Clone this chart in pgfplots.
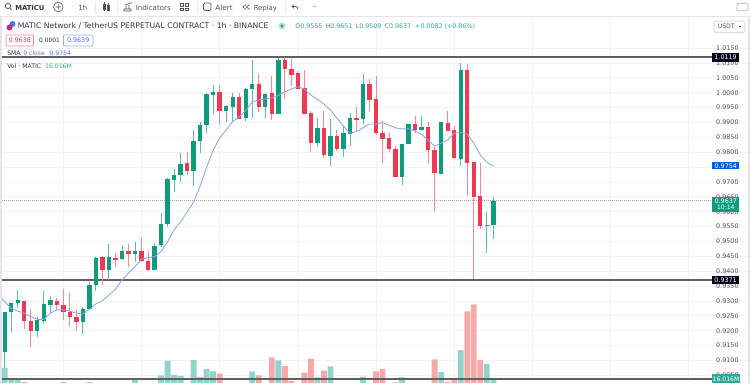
\documentclass[border=0pt]{standalone}
\usepackage{pgfplots}
\usepackage{pgfplotstable}
\usepackage{fontspec}
\pgfplotsset{compat=1.18}
\setmainfont{DejaVu Sans}
\definecolor{up}{HTML}{0F9B7E}
\definecolor{dn}{HTML}{EE3A50}
\definecolor{upw}{HTML}{62B9A6}
\definecolor{dnw}{HTML}{F08C9A}
\definecolor{upv}{HTML}{92D3CB}
\definecolor{dnv}{HTML}{F6A9A9}
\definecolor{gridc}{HTML}{F1F3F8}
\definecolor{lev}{HTML}{606064}
\definecolor{sma}{HTML}{8EA6E6}
\definecolor{txt}{HTML}{33363F}
\definecolor{gr}{HTML}{787B86}
\definecolor{teal}{HTML}{2FA899}
\definecolor{bluet}{HTML}{4F75E0}
\definecolor{tool}{HTML}{50535E}
\definecolor{edge}{HTML}{E3E5EC}
\pgfplotstableread{
i o c h l
0 .9129 .9264 .9264 .9075
1 .9263 .9294 .9294 .9197
2 .9292 .9303 .9337 .9275
5 .9199 .9236 .9247 .9178
6 .9234 .9289 .9334 .9227
7 .9287 .9303 .9317 .9261
12 .9228 .9273 .9279 .9188
13 .9273 .9355 .9365 .9270
14 .9355 .9445 .9449 .9334
16 .9404 .9447 .9490 .9370
18 .9440 .9469 .9486 .9438
20 .9458 .9469 .9499 .9430
23 .9405 .9486 .9495 .9404
24 .9488 .9558 .9597 .9482
25 .9558 .9709 .9712 .9548
26 .9706 .9723 .9744 .9665
27 .9723 .9760 .9796 .9699
29 .9738 .9839 .9875 .9686
30 .9837 .9891 .9902 .9796
31 .9890 .9997 1.0000 .9864
32 .9993 1.0002 1.0026 .9927
34 .9938 .9955 .9959 .9902
35 .9953 .9987 1.0000 .9906
37 .9914 1.0012 1.0015 .9905
38 1.0011 1.0030 1.0110 .9915
40 .9952 .9997 1.0000 .9915
42 .9929 1.0110 1.0120 .9929
48 .9830 .9880 .9916 .9817
50 .9787 .9855 .9911 .9754
52 .9812 .9864 .9888 .9783
53 .9861 .9915 .9933 .9821
55 .9910 1.0029 1.0062 .9895
61 .9716 .9828 .9828 .9690
62 .9828 .9896 .9896 .9828
64 .9875 .9884 .9922 .9875
67 .9728 .9900 .9902 .9727
70 .9778 1.0077 1.0101 .9754
74 .9553 .9555 .9600 .9462
75 .9555 .9637 .9651 .9509
}\greenT
\pgfplotstableread{
i o c h l
3 .9301 .9232 .9301 .9205
4 .9232 .9199 .9272 .9144
8 .9301 .9285 .9309 .9270
9 .9285 .9263 .9339 .9236
10 .9264 .9246 .9328 .9216
11 .9245 .9229 .9270 .9200
15 .9447 .9403 .9451 .9354
17 .9445 .9439 .9460 .9413
19 .9469 .9458 .9490 .9413
21 .9467 .9435 .9511 .9430
22 .9435 .9404 .9469 .9402
28 .9763 .9737 .9801 .9723
33 1.0002 .9938 1.0027 .9891
36 .9986 .9912 .9998 .9911
39 1.0030 .9953 1.0062 .9934
41 .9998 .9929 1.0057 .9908
43 1.0110 1.0080 1.0120 .9978
44 1.0081 1.0060 1.0112 1.0022
45 1.0065 1.0012 1.0074 1.0011
46 1.0015 .9927 1.0076 .9927
47 .9931 .9830 .9938 .9805
49 .9880 .9789 .9938 .9779
51 .9855 .9811 .9875 .9805
54 .9915 .9909 .9953 .9872
56 1.0029 .9977 1.0045 .9940
57 .9978 .9866 1.0056 .9858
58 .9866 .9845 .9906 .9763
59 .9847 .9810 .9864 .9801
60 .9810 .9718 .9821 .9716
63 .9896 .9875 .9922 .9866
65 .9884 .9807 .9902 .9759
66 .9807 .9730 .9824 .9600
68 .9899 .9871 .9940 .9871
69 .9875 .9780 .9888 .9777
71 1.0076 .9765 1.0097 .9653
72 .9767 .9650 .9767 .9373
73 .9653 .9553 .9763 .9541
}\redT
\pgfplotstableread{
i v
-1 .9320
0 .9298
1 .9275
2 .9266
3 .9259
4 .9247
5 .9238
6 .9238
7 .9259
8 .9270
9 .9270
10 .9266
11 .9259
12 .9256
13 .9272
14 .9290
15 .9301
16 .9320
17 .9339
18 .9370
19 .9393
20 .9415
21 .9440
22 .9445
23 .9449
24 .9466
25 .9499
26 .9539
27 .9566
28 .9599
29 .9633
30 .9686
31 .9750
32 .9807
33 .9848
34 .9875
35 .9903
36 .9919
37 .9940
38 .9969
39 .9976
40 .9979
41 .9983
42 .9990
43 1.0003
44 1.0012
45 1.0020
46 1.0012
47 .9992
48 .9978
49 .9962
50 .9942
51 .9914
52 .9888
53 .9864
54 .9869
55 .9882
56 .9895
57 .9895
58 .9899
59 .9891
60 .9882
61 .9878
62 .9879
63 .9871
64 .9860
65 .9839
66 .9821
67 .9830
68 .9841
69 .9864
70 .9866
71 .9861
72 .9830
73 .9791
74 .9766
75 .9754
}\smaT
\pgfplotstableread{
i v
0 29.6
1 17.2
2 17.2
13 12.3
20 16.4
24 20.5
25 38.6
26 21.0
27 20.0
29 39.4
30 18.5
31 28.3
32 25.5
38 25.5
42 39.0
48 18.1
50 31.7
55 18.9
61 18.1
67 24.6
70 51.7
74 34.5
75 16.016
}\volUp
\pgfplotstableread{
i v
3 12.3
9 12.5
33 22.5
39 20.6
41 42.7
43 32.0
44 13.6
46 23.8
47 41.0
49 26.2
57 25.5
58 28.3
60 12.0
66 40.3
68 12.7
69 16.4
71 99.4
72 108.0
73 39.4
}\volDn
\newcommand{\ft}[1]{\fontsize{#1}{#1}\selectfont}
\begin{document}
\begin{tikzpicture}
\useasboundingbox (0,0) rectangle (562.5pt,287.25pt);
% grid and price scale
\begin{axis}[at={(0,0)},anchor=south west,width=562.5pt,height=287.25pt,scale only axis,
  xmin=-0.7214,xmax=114.40,ymin=0.90242,ymax=1.03116,clip=true,
  axis line style={draw=none},major tick length=0pt,
  xtick={9,21,33,45,57,69,81,93,105},xticklabels={},
  ytick={0.905,0.91,0.915,0.92,0.925,0.93,0.935,0.94,0.945,0.95,0.955,0.96,0.965,0.97,0.98,0.985,0.99,0.995,1,1.005,1.01,1.015},
  extra y ticks={0.975},extra y tick labels={},
  grid=major,grid style={gridc,line width=0.5pt},
  yticklabel pos=right,
  yticklabel style={anchor=east,xshift=-5pt,text=tool,font=\ft{4.8},/pgf/number format/.cd,fixed,fixed zerofill,precision=4,assume math mode=true}]
\addplot[draw=none,forget plot] coordinates {(0,0.95)};
\end{axis}
% volume pane
\begin{axis}[at={(0,0)},anchor=south west,width=562.5pt,height=287.25pt,scale only axis,
  hide axis,xmin=-0.7214,xmax=114.40,ymin=11.09,ymax=482.9,clip=true]
\addplot[ybar,bar width=4.4pt,bar shift=0pt,fill=upv,draw=none] table[x=i,y=v]{\volUp};
\addplot[ybar,bar width=4.4pt,bar shift=0pt,fill=dnv,draw=none] table[x=i,y=v]{\volDn};
\addplot[lev,line width=1.2pt] coordinates {(-0.4,16.016)(108.57,16.016)};
\end{axis}
% candles
\begin{axis}[at={(0,0)},anchor=south west,width=562.5pt,height=287.25pt,scale only axis,
  hide axis,xmin=-0.7214,xmax=114.40,ymin=0.90242,ymax=1.03116,clip=true]
\addplot[lev,line width=1.2pt] coordinates {(-0.4,1.0119)(108.57,1.0119)};
\addplot[lev,line width=1.2pt] coordinates {(-0.4,0.9371)(108.57,0.9371)};
\addplot[gray!70,line width=0.5pt,densely dotted] coordinates {(-0.4,0.9637)(108.57,0.9637)};
\addplot[draw=none,mark=none,error bars/.cd,y dir=minus,y explicit,error mark=none,error bar style={upw,line width=0.7pt}] table[x=i,y=h,y error minus expr=\thisrow{h}-\thisrow{l}]{\greenT};
\addplot[draw=none,mark=none,error bars/.cd,y dir=minus,y explicit,error mark=none,error bar style={dnw,line width=0.7pt}] table[x=i,y=h,y error minus expr=\thisrow{h}-\thisrow{l}]{\redT};
\addplot[draw=none,mark=none,error bars/.cd,y dir=minus,y explicit,error mark=none,error bar style={up,line width=3.3pt}] table[x=i,y=c,y error minus expr=\thisrow{c}-\thisrow{o}]{\greenT};
\addplot[draw=none,mark=none,error bars/.cd,y dir=minus,y explicit,error mark=none,error bar style={dn,line width=3.3pt}] table[x=i,y=o,y error minus expr=\thisrow{o}-\thisrow{c}]{\redT};
\addplot[sma,line width=0.65pt,line join=round] table[x=i,y=v]{\smaT};
\end{axis}
\begin{scope}[shift={(0,287.25pt)},x=0.75pt,y=-0.75pt]
\fill[white] (0,0) rectangle (750,17);
\fill[edge] (0,16) rectangle (750,17.2);
\fill[edge] (0,17) rectangle (1.8,383);
\fill[edge] (747.5,17) rectangle (750,383);
% toolbar
\draw[tool,line width=0.6pt] (8,6) circle[radius=2.6] (9.9,8) -- (11.5,9.8);
\node[anchor=base west,inner sep=0,text=txt] at (15,10) {\ft{5.1}\bfseries MATICU};
\draw[tool,line width=0.45pt] (58.3,7) circle[radius=4.8] (55.8,7)--(60.8,7) (58.3,4.5)--(58.3,9.5);
\node[anchor=base west,inner sep=0,text=tool] at (78,10) {\ft{5.3}1h};
\draw[tool,line width=0.45pt] (103,4) rectangle (104.8,9) (107,5) rectangle (108.8,10) (103.9,2.5)--(103.9,11) (107.9,3)--(107.9,11.5);
\draw[tool,line width=0.45pt] (124,11) rectangle (131,9) (126,9) -- (126,6) (129,9) -- (129,5) (125,5) -- (132,2.5);
\node[anchor=base west,inner sep=0,text=tool] at (135.5,10) {\ft{5.3}Indicators};
\draw[tool,line width=0.45pt] (180.5,3.5) rectangle (183.3,6.3) (185.2,3.5) rectangle (188,6.3) (180.5,7.9) rectangle (183.3,10.7) (185.2,7.9) rectangle (188,10.7);
\draw[tool,line width=0.45pt,rounded corners=1pt] (203.5,3) rectangle (211,10.5);
\node[anchor=base west,inner sep=0,text=tool] at (215,10) {\ft{5.5}Alert};
\draw[tool,line width=0.45pt] (246,4.5)--(243,7)--(246,9.5) (249.5,4.5)--(246.5,7)--(249.5,9.5);
\node[anchor=base west,inner sep=0,text=tool] at (253.5,10) {\ft{5.1}Replay};
\draw[tool,line width=0.5pt] (296,6.5)--(292,6.5)--(294,4.5) (292,6.5)--(294,8.3) (296,6.5) .. controls (298,6.5) and (298,8.5) .. (297.5,9);
\draw[gray!35,line width=0.5pt] (316,6.5)--(312,6.5) (316,6.5)--(314.5,5) (316,6.5)--(314.5,8);
\draw[edge,line width=0.5pt] (95,2)--(95,13) (117,2)--(117,13) (197,2)--(197,13) (285,2)--(285,13);
\draw[gray!60,line width=0.5pt,rounded corners=1pt] (737,3.2) rectangle (748,10.7);
% header
\fill[bluet] (12.5,24) circle[radius=3];
\fill[magenta!60!violet] (9.5,27.5) circle[radius=3];
\node[anchor=base west,inner sep=0,text=txt] at (17.5,29) {\ft{5.78}MATIC Network / TetherUS PERPETUAL CONTRACT · 1h · BINANCE};
\fill[teal!35] (282,26) circle[radius=3.4];
\fill[teal!90!black] (282,26) circle[radius=1.6];
\node[anchor=base west,inner sep=0] at (295,29) {\ft{4.75}\textcolor{gr}{O}\textcolor{teal}{0.9555}\hspace{2.4pt}\textcolor{gr}{H}\textcolor{teal}{0.9651}\hspace{2.4pt}\textcolor{gr}{L}\textcolor{teal}{0.9509}\hspace{2.4pt}\textcolor{gr}{C}\textcolor{teal}{0.9637}\hspace{3pt}\textcolor{teal}{+0.0082 (+0.86\%)}};
\draw[dn!60,line width=0.5pt,fill=white,rounded corners=0.7pt] (6,35) rectangle (33.5,46);
\node[anchor=center,inner sep=0,text=dn] at (19.7,40.5) {\ft{4.8}0.9638};
\node[anchor=center,inner sep=0,text=txt] at (49.5,40) {\ft{4.4}0.0001};
\draw[bluet!60,line width=0.5pt,fill=white,rounded corners=0.7pt] (63.5,35) rectangle (93,46);
\node[anchor=center,inner sep=0,text=bluet] at (78.2,40.5) {\ft{4.8}0.9639};
\node[anchor=base west,inner sep=0] at (7,56) {\ft{4.6}\textcolor{txt}{SMA}\hspace{2pt}\textcolor{gr}{9 close}\hspace{3.5pt}\textcolor{bluet}{0.9754}};
\node[anchor=base west,inner sep=0] at (7,68) {\ft{4.6}\textcolor{txt}{Vol · MATIC}\hspace{3pt}\textcolor{teal}{16.016M}};
% price tags
\fill[black!90!blue] (712.3,53.3) rectangle (739,61.7);
\node[text=white,inner sep=0] at (725.6,57.5) {\ft{4.8}1.0119};
\fill[black!90!blue] (712.3,276) rectangle (739,284);
\node[text=white,inner sep=0] at (725.6,280) {\ft{4.8}0.9371};
\fill[blue!55!cyan!85!black] (712.3,162.3) rectangle (739.3,169.3);
\node[text=white,inner sep=0] at (725.8,166) {\ft{4.8}0.9754};
\fill[up] (712.3,197.3) rectangle (739.3,211.7);
\node[text=white,inner sep=0] at (725.8,201.3) {\ft{4.8}0.9637};
\node[text=white,inner sep=0] at (725.8,207.8) {\ft{4.5}10:14};
\fill[teal] (712.3,374.3) rectangle (740,383);
\node[text=white,inner sep=0] at (726,379) {\ft{4.6}16.016M};
\draw[edge!90!black,line width=0.5pt,fill=white,rounded corners=0.8pt] (714.3,21) rectangle (744.3,32.7);
\node[anchor=base west,inner sep=0,text=tool] at (717.5,29) {\ft{4.6}USDT};
\draw[tool,line width=0.4pt] (739,26)--(741,26);
\end{scope}
\end{tikzpicture}
\end{document}
